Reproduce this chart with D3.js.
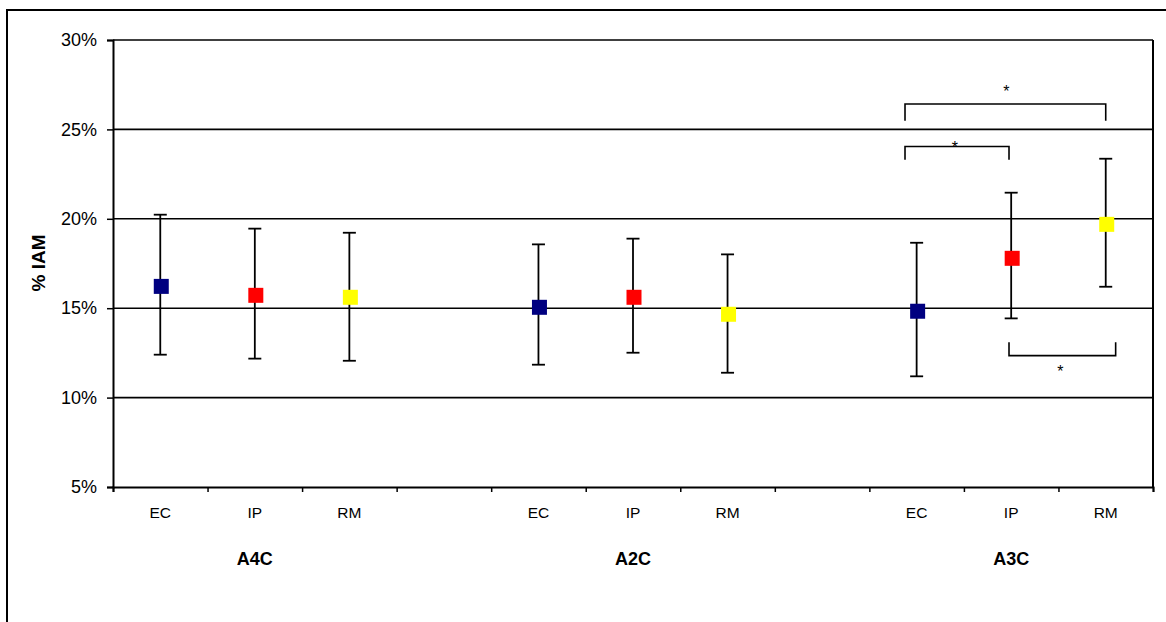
<!DOCTYPE html>
<html><head><meta charset="utf-8">
<script src="https://cdn.jsdelivr.net/npm/d3@7"></script>
<style>
html,body{margin:0;padding:0;background:#fff;}
text{font-family:Arial,"Liberation Sans",sans-serif;fill:#000;}
</style></head>
<body><svg id="c" width="1166" height="622"></svg>
<script>
// ---- data ----
const groups = ["A4C", "A2C", "A3C"];
const methods = ["EC", "IP", "RM"];
const slotLabels = ["EC", "IP", "RM", "", "EC", "IP", "RM", "", "EC", "IP", "RM"];
const means = [16.22, 15.72, 15.61, 15.05, 15.61, 14.66, 14.83, 17.79, 19.69];
const upper = [20.23, 19.45, 19.22, 18.57, 18.89, 18.01, 18.66, 21.46, 23.36];
const lower = [12.40, 12.18, 12.06, 11.84, 12.51, 11.39, 11.19, 14.43, 16.20];
const yTicks = [5, 10, 15, 20, 25, 30];
const methodColors = {EC: "#000080", IP: "#FF0000", RM: "#FFFF00"};
// significance brackets (x in slot units, y in %)
const brackets = [
  {x1: 8.377, x2: 10.50, y: 26.42, leg: 25.49, sx: 9.45, sy: 27.3},
  {x1: 8.377, x2: 9.477, y: 24.04, leg: 23.30, sx: 8.905, sy: 24.2},
  {x1: 9.477, x2: 10.605, y: 12.35, leg: 13.09, sx: 10.02, sy: 11.65}
];

// ---- layout ----
const svg = d3.select("#c");
const L = 113, R = 1153, T = 40, B = 487;
const xs = d3.scaleLinear().domain([0, slotLabels.length]).range([L, R]);
const y = d3.scaleLinear().domain([5, 30]).range([B, T]);

// outer frame
svg.append("path").attr("d", "M7,622 V10 H1166").attr("fill", "none").attr("stroke", "#000").attr("stroke-width", 2);

// gridlines
svg.append("g").selectAll("line").data(yTicks.filter(d => d > 5)).join("line")
  .attr("x1", L).attr("x2", R).attr("y1", d => y(d)).attr("y2", d => y(d))
  .attr("stroke", "#000").attr("stroke-width", 1.6);
// right border of plot
svg.append("line").attr("x1", R).attr("x2", R).attr("y1", T).attr("y2", B).attr("stroke", "#000").attr("stroke-width", 2);

// y axis
const ya = svg.append("g").attr("transform", `translate(${L},0)`)
  .call(d3.axisLeft(y).tickValues(yTicks).tickFormat(d => d + "%").tickSize(6).tickPadding(10));
ya.select(".domain").attr("stroke", "#000").attr("stroke-width", 2);
ya.selectAll(".tick line").attr("stroke", "#000").attr("stroke-width", 1.5);
ya.selectAll(".tick text").attr("font-size", 18).attr("font-family", "Arial,'Liberation Sans',sans-serif");

// x axis
const xa = svg.append("g").attr("transform", `translate(0,${B})`)
  .call(d3.axisBottom(xs).tickValues(d3.range(slotLabels.length + 1)).tickFormat("").tickSize(5));
xa.select(".domain").attr("stroke", "#000").attr("stroke-width", 2);
xa.selectAll(".tick line").attr("stroke", "#000").attr("stroke-width", 1.5);
svg.append("g").selectAll("text").data(slotLabels).join("text")
  .attr("x", (d, i) => xs(i + 0.5)).attr("y", 518)
  .attr("text-anchor", "middle").attr("font-size", 15.5).text(d => d);
svg.append("g").selectAll("text").data(groups).join("text")
  .attr("x", (d, i) => xs(i * 4 + 1.5)).attr("y", 565)
  .attr("text-anchor", "middle").attr("font-size", 18).attr("font-weight", "bold").text(d => d);

// y title
svg.append("text").attr("transform", `translate(45,263) rotate(-90)`)
  .attr("text-anchor", "middle").attr("font-size", 19).attr("font-weight", "bold").text("% IAM");

// points
const pts = means.map((m, k) => {
  const g = Math.floor(k / 3), j = k % 3;
  return {slot: g * 4 + j, method: methods[j], mean: m, hi: upper[k], lo: lower[k]};
});
const eb = svg.append("g").attr("stroke", "#000").attr("stroke-width", 1.8);
pts.forEach(p => {
  const cx = xs(p.slot + 0.5);
  eb.append("line").attr("x1", cx).attr("x2", cx).attr("y1", y(p.hi)).attr("y2", y(p.lo));
  eb.append("line").attr("x1", cx - 6.5).attr("x2", cx + 6.5).attr("y1", y(p.hi)).attr("y2", y(p.hi));
  eb.append("line").attr("x1", cx - 6.5).attr("x2", cx + 6.5).attr("y1", y(p.lo)).attr("y2", y(p.lo));
});
const ms = 15;
svg.append("g").selectAll("rect").data(pts).join("rect")
  .attr("x", p => xs(p.slot + 0.5) - ms / 2 + 1).attr("y", p => y(p.mean) - ms / 2)
  .attr("width", ms).attr("height", ms).attr("fill", p => methodColors[p.method]);

// brackets
const bg = svg.append("g");
brackets.forEach(b => {
  bg.append("path")
    .attr("d", `M${xs(b.x1)},${y(b.leg)} V${y(b.y)} H${xs(b.x2)} V${y(b.leg)}`)
    .attr("fill", "none").attr("stroke", "#000").attr("stroke-width", 1.6);
  bg.append("text").attr("x", xs(b.sx)).attr("y", y(b.sy) + 9)
    .attr("text-anchor", "middle").attr("font-size", 16).text("*");
});
</script></body></html>
